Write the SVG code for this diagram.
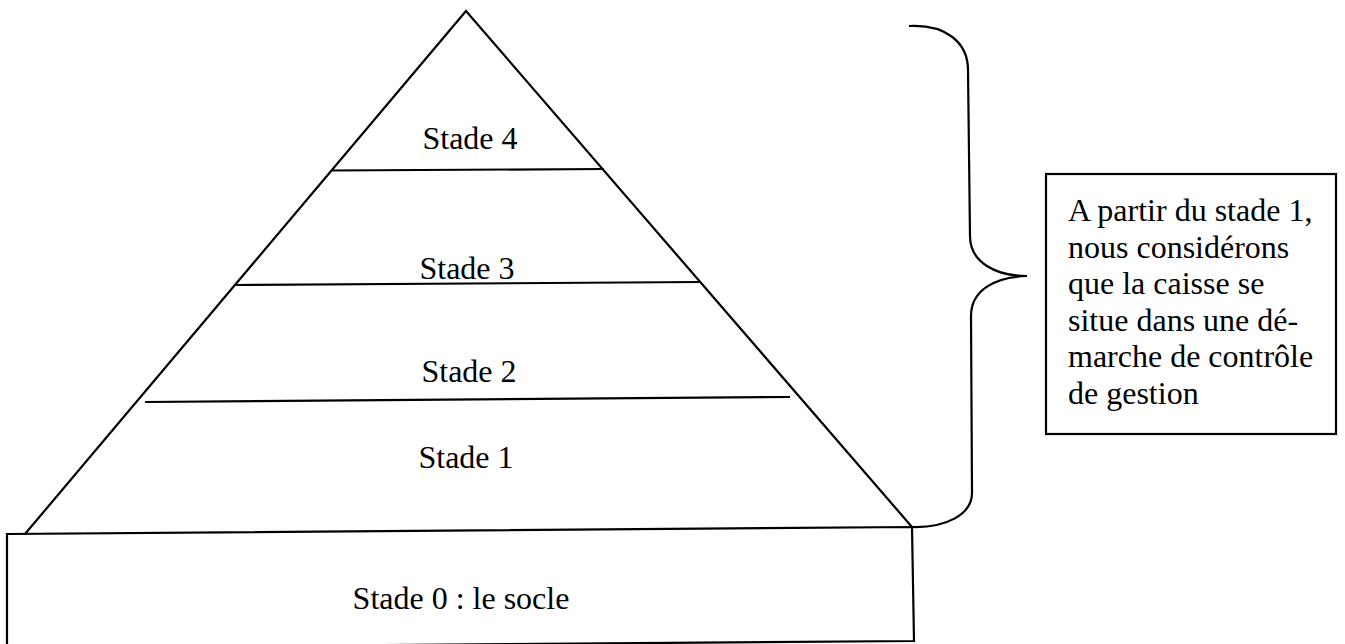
<svg xmlns="http://www.w3.org/2000/svg" width="1345" height="644" viewBox="0 0 1345 644">
<style>
.ln{fill:none;stroke:#000;stroke-width:2.2;stroke-linejoin:miter}
.tx{font-family:"Liberation Serif","Times New Roman",serif;font-size:32px;fill:#000}
</style>
<rect x="0" y="0" width="1345" height="644" fill="#fff"/>
<g id="socle">
<polygon class="ln" points="7,534 912,527 914,641 7,648"/>
<text class="tx" x="461" y="609" text-anchor="middle">Stade 0 : le socle</text>
</g>
<g id="pyramide">
<polyline class="ln" points="25,534 466,11 912,527"/>
</g>
<g id="connectors">
<line class="ln" x1="331" y1="170.5" x2="604" y2="169"/>
<line class="ln" x1="236" y1="285" x2="701" y2="282"/>
<line class="ln" x1="145" y1="402" x2="790" y2="397"/>
<path class="ln" d="M909,26 C945,24 968,42 968,70 L970,236 C970,262 995,276 1027,276 C995,277 971,290 971,316 L972,493 C972,515 945,528 912,527"/>
</g>
<g id="stade4"><text class="tx" x="470" y="149" text-anchor="middle">Stade 4</text></g>
<g id="stade3"><text class="tx" x="467" y="279" text-anchor="middle">Stade 3</text></g>
<g id="stade2"><text class="tx" x="469" y="382" text-anchor="middle">Stade 2</text></g>
<g id="stade1"><text class="tx" x="466" y="468" text-anchor="middle">Stade 1</text></g>
<g id="note">
<rect class="ln" x="1046" y="174" width="290" height="260"/>
<text class="tx" x="1068" y="221">A partir du stade 1,</text>
<text class="tx" x="1068" y="257.5">nous considérons</text>
<text class="tx" x="1068" y="294">que la caisse se</text>
<text class="tx" x="1068" y="330.5">situe dans une dé-</text>
<text class="tx" x="1068" y="367">marche de contrôle</text>
<text class="tx" x="1068" y="403.5">de gestion</text>
</g>
</svg>
